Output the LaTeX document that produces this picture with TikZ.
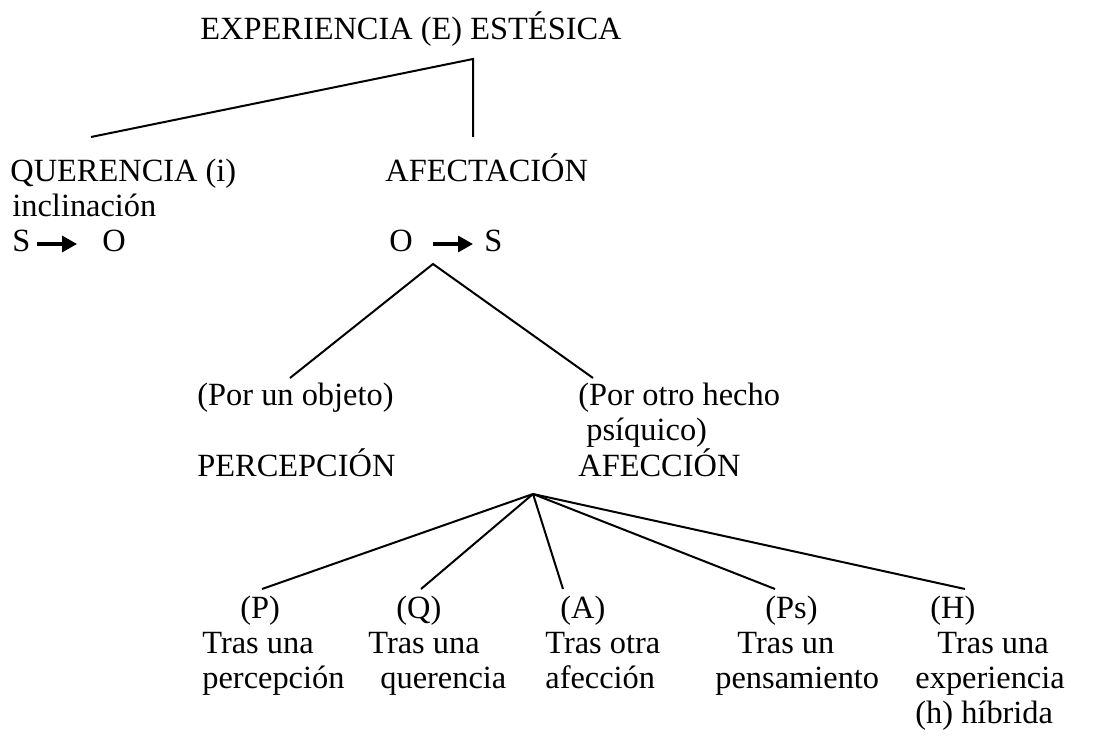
\documentclass[tikz,border=0pt]{standalone}
\usepackage{fontspec}
\setmainfont{Liberation Serif}
\usetikzlibrary{arrows.meta}

\tikzset{
  txt/.style={anchor=base west, inner sep=0pt, font=\fontsize{16.2}{18.5}\selectfont},
  rama/.style={line width=1pt},
  flecha/.style={line width=1.6pt, -{Triangle[length=7.5pt,width=8pt]}}
}

\begin{document}
\begin{tikzpicture}[x=0.5pt, y=-0.5pt]
  \useasboundingbox (0,0) rectangle (1096,742);

  % top level
  \node[txt] (e) at (200,40) {EXPERIENCIA (E) ESTÉSICA};
  \coordinate (etop) at (473,59);
  \coordinate (qtop) at (91,137);
  \coordinate (atop) at (473,137);
  \draw[rama] (qtop) -- (etop) -- (atop);

  % querencia
  \node[txt] (q) at (10,182) {QUERENCIA (i)};
  \node[txt] (qincl) at (12,217) {inclinación};
  \node[txt] (qs) at (12,252) {S};
  \node[txt] (qo) at (102,252) {O};
  \coordinate (qa1) at (37,244);
  \coordinate (qa2) at (77,244);
  \draw[flecha] (qa1) -- (qa2);

  % afectacion
  \node[txt] (a) at (385,182) {AFECTACIÓN};
  \node[txt] (ao) at (389,252) {O};
  \node[txt] (as) at (484,252) {S};
  \coordinate (aa1) at (433,244);
  \coordinate (aa2) at (473,244);
  \draw[flecha] (aa1) -- (aa2);

  \coordinate (atip) at (433,264);
  \coordinate (pend) at (290,378);
  \coordinate (fend) at (593,378);
  \draw[rama] (pend) -- (atip) -- (fend);

  \node[txt] (pobj) at (197,406) {(Por un objeto)};
  \node[txt] (per) at (197,476) {PERCEPCIÓN};
  \node[txt] (fobj) at (578,406) {(Por otro hecho};
  \node[txt] (fobj2) at (586,441) {psíquico)};
  \node[txt] (af) at (578,476) {AFECCIÓN};

  % afeccion: five kinds
  \coordinate (ftip) at (533,494);
  \coordinate (kp) at (262,589);
  \coordinate (kq) at (421,589);
  \coordinate (ka) at (563,589);
  \coordinate (kps) at (775,589);
  \coordinate (kh) at (965,589);
  \draw[rama] (ftip) -- (kp);
  \draw[rama] (ftip) -- (kq);
  \draw[rama] (ftip) -- (ka);
  \draw[rama] (ftip) -- (kps);
  \draw[rama] (ftip) -- (kh);

  \node[txt] (p) at (240,618) {(P)};
  \node[txt] (p1) at (202,653) {Tras una};
  \node[txt] (p2) at (202,688) {percepción};

  \node[txt] (qq) at (396,618) {(Q)};
  \node[txt] (qq1) at (368,653) {Tras una};
  \node[txt] (qq2) at (380,688) {querencia};

  \node[txt] (aa) at (560,618) {(A)};
  \node[txt] (aa1t) at (545,653) {Tras otra};
  \node[txt] (aa2t) at (545,688) {afección};

  \node[txt] (ps) at (765,618) {(Ps)};
  \node[txt] (ps1) at (737,653) {Tras un};
  \node[txt] (ps2) at (715,688) {pensamiento};

  \node[txt] (h) at (930,618) {(H)};
  \node[txt] (h1) at (937,653) {Tras una};
  \node[txt] (h2) at (915,688) {experiencia};
  \node[txt] (h3) at (915,723) {(h) híbrida};
\end{tikzpicture}
\end{document}
